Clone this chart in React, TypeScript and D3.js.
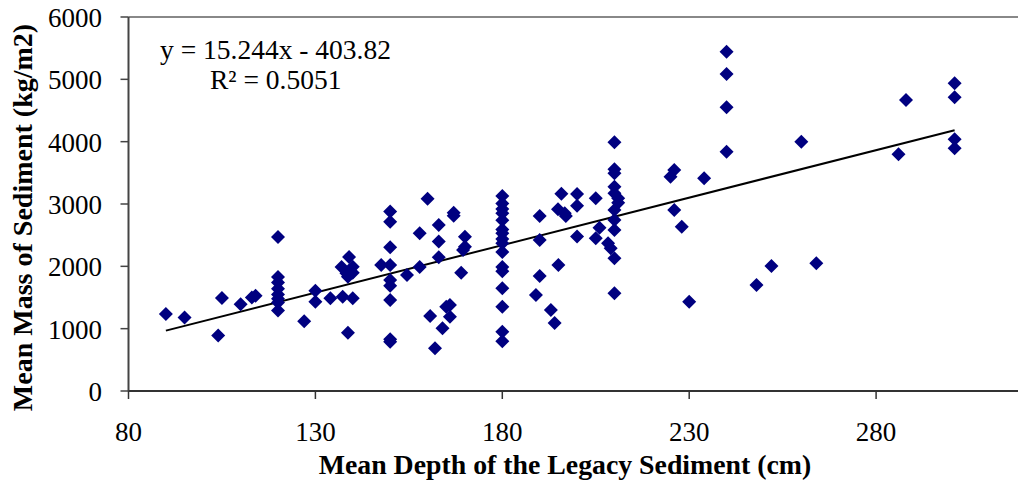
import React from "react";
import * as d3 from "d3";

const depth: number[] = [
  90, 95, 104, 105, 110, 113, 114,
  120, 120, 120, 120, 120, 120, 120, 120,
  127, 130, 130, 134, 137, 137.3, 139, 138.3, 138.7, 138.7, 140, 140, 140,
  147.6,
  150, 150, 150, 150, 150, 150, 150, 150, 150,
  154.5, 157.9, 157.9, 160, 160.7, 162, 163, 163, 163, 164, 165, 166, 166, 167, 167,
  170, 170, 169.5, 169,
  180, 180, 180, 180, 180, 180, 180, 180, 180, 180, 180, 180, 180, 180, 180, 180,
  189, 190, 190, 190, 193, 194, 195, 195.8, 194.9, 196.7, 197,
  200, 200, 200, 205, 205, 206, 208.3, 209,
  210, 210, 210, 210, 210, 210, 210, 210, 210, 210, 211, 211,
  225, 226, 226, 228, 230, 234,
  240, 240, 240, 240,
  248, 252, 260, 264, 286, 288,
  301, 301, 301, 301,
];

const mass: number[] = [
  1235, 1180, 890, 1490, 1390, 1500, 1530,
  2470, 1830, 1740, 1640, 1550, 1480, 1420, 1290,
  1120, 1610, 1430, 1487, 1990, 1513, 2150, 1888, 1834, 936, 1994, 1898, 1487,
  2020,
  2880, 2716, 2305, 2022, 1781, 1690, 1460, 830, 790,
  1861, 2530, 1990, 3085, 1203, 685, 2663, 2400, 2145, 1006, 1353, 1380, 1193, 2860, 2810,
  2476, 2316, 2262, 1898,
  3130, 3010, 2920, 2850, 2740, 2590, 2530, 2440, 2370, 2230, 1990, 1920, 1650, 1350, 950, 800,
  1540, 2808, 2423, 1845, 1300, 1090, 2020, 3165, 2915, 2851, 2808,
  3160, 2970, 2480, 3091, 2450, 2620, 2370, 2289,
  3990, 3557, 3493, 3278, 3171, 2904, 2744, 2583, 2129, 1567, 3091, 3021,
  3438, 3545, 2904, 2636, 1433, 3412,
  5444, 5086, 4552, 3839,
  1700, 2005, 4000, 2048, 3800, 4670,
  4937, 4712, 4037, 3894,
];

const xTicks: number[] = [80, 130, 180, 230, 280];
const yTicks: number[] = [0, 1000, 2000, 3000, 4000, 5000, 6000];
const slope = 15.244;
const intercept = -403.82;
const equationLabel = "y = 15.244x - 403.82";
const r2Label = "R² = 0.5051";
const xTitle = "Mean Depth of the Legacy Sediment (cm)";
const yTitle = "Mean Mass of Sediment (kg/m2)";

const W = 1018;
const H = 482;
const FONT = "'Liberation Serif', 'Times New Roman', serif";

export default function App() {
  const x = d3.scaleLinear().domain([80, 330]).range([128.5, 1063]);
  const y = d3.scaleLinear().domain([0, 6000]).range([391, 17]);
  const points = depth.map((d, i) => ({ d, m: mass[i] }));
  const xMin = d3.min(depth) as number;
  const xMax = d3.max(depth) as number;
  const trend = d3.line<number>()
    .x((v) => x(v))
    .y((v) => y(slope * v + intercept));
  const diamond = d3.symbol().type(d3.symbolSquare).size(98)();

  return (
    <div style={{ position: "absolute", left: 0, top: 0 }}>
      <svg width={W} height={H} style={{ display: "block", background: "#fff" }}>
        <line x1={x(80)} x2={W} y1={y(6000)} y2={y(6000)} stroke="#888" strokeWidth={2} />
        <line x1={x(80)} x2={x(80)} y1={y(6000)} y2={y(0)} stroke="#444" strokeWidth={2} />
        <line x1={x(80)} x2={W} y1={y(0)} y2={y(0)} stroke="#333" strokeWidth={2} />
        {yTicks.map((t) => (
          <g key={"y" + t}>
            <line x1={x(80) - 8} x2={x(80)} y1={y(t)} y2={y(t)} stroke="#444" strokeWidth={1.5} />
            <text x={102} y={y(t) + 10} textAnchor="end" fontFamily={FONT} fontSize={27} fill="#000">
              {t}
            </text>
          </g>
        ))}
        {xTicks.map((t) => (
          <g key={"x" + t}>
            <line x1={x(t)} x2={x(t)} y1={y(0)} y2={y(0) + 8} stroke="#333" strokeWidth={1.5} />
            <text x={x(t)} y={441} textAnchor="middle" fontFamily={FONT} fontSize={27} fill="#000">
              {t}
            </text>
          </g>
        ))}
        <path d={trend([xMin, xMax]) || ""} fill="none" stroke="#000" strokeWidth={2} />
        {points.map((p, i) => (
          <path
            key={i}
            d={diamond || ""}
            transform={`translate(${x(p.d)},${y(p.m)}) rotate(45)`}
            fill="#000080"
          />
        ))}
        <text x={160} y={59} fontFamily={FONT} fontSize={27.5} fill="#000">{equationLabel}</text>
        <text x={210} y={89} fontFamily={FONT} fontSize={27.5} fill="#000">{r2Label}</text>
        <text x={565} y={474} textAnchor="middle" fontFamily={FONT} fontSize={27.8} fontWeight="bold" fill="#000">
          {xTitle}
        </text>
        <text
          transform={`translate(32,${217.5}) rotate(-90)`}
          textAnchor="middle"
          fontFamily={FONT}
          fontSize={28}
          fontWeight="bold"
          fill="#000"
        >
          {yTitle}
        </text>
      </svg>
    </div>
  );
}
